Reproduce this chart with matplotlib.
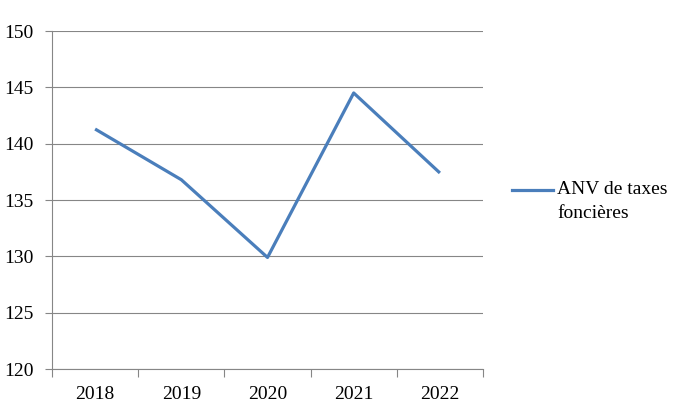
import matplotlib
matplotlib.use('Agg')
import matplotlib.pyplot as plt
from matplotlib.lines import Line2D

# ── Data ──────────────────────────────────────────────────────────────────
years  = ['2018', '2019', '2020', '2021', '2022']
values = [141.3, 136.8, 129.9, 144.5, 137.4]
label_lines = ['ANV de taxes', 'foncières']

LINE_COLOR = '#4A7EBB'
AXIS_COLOR = '#868686'

plt.rcParams['font.family'] = ['Liberation Serif', 'DejaVu Serif']

fig = plt.figure(figsize=(6.98, 4.05), dpi=100)
ax = fig.add_axes([52/698, 1-369/405, 431/698, 338/405])

x = list(range(len(years)))
ax.plot(x, values, color=LINE_COLOR, linewidth=2.3, solid_capstyle='butt', zorder=3)

ax.set_xlim(-0.5, len(years)-0.5)
ax.set_ylim(120, 150)
ax.set_yticks(range(120, 151, 5))
ax.set_xticks(x)
ax.set_xticklabels(years)
ax.set_xticks([i - 0.5 for i in range(len(years)+1)], minor=True)

ax.grid(axis='y', color=AXIS_COLOR, linewidth=0.8, zorder=0)
ax.tick_params(axis='x', which='major', length=0, pad=12, labelsize=14)
ax.tick_params(axis='x', which='minor', length=6, color=AXIS_COLOR, width=0.8)
ax.tick_params(axis='y', length=5, color=AXIS_COLOR, width=0.8, pad=8, labelsize=14)

for s in ['top', 'right']:
    ax.spines[s].set_visible(False)
for s in ['left', 'bottom']:
    ax.spines[s].set_color(AXIS_COLOR)
    ax.spines[s].set_linewidth(0.8)

# legend drawn by hand, Excel style (handle beside first line)
fig.add_artist(Line2D([512/698, 553/698], [1-190/405, 1-190/405],
                      color=LINE_COLOR, linewidth=2.3, transform=fig.transFigure))
fig.text(557/698, 1-190/405, label_lines[0], fontsize=14, va='center', ha='left')
fig.text(557/698, 1-214/405, label_lines[1], fontsize=14, va='center', ha='left')

fig.savefig('out.png', dpi=100, facecolor='white')
